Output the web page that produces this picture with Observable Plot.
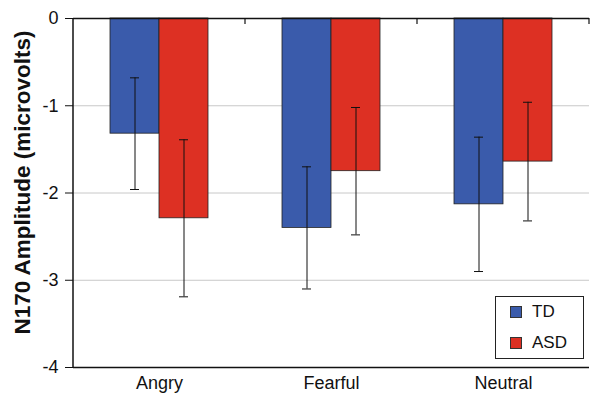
<!DOCTYPE html>
<html>
<head>
<meta charset="utf-8">
<script src="https://cdn.jsdelivr.net/npm/d3@7"></script>
<script src="https://cdn.jsdelivr.net/npm/@observablehq/plot@0.6"></script>
<style>
  body { margin: 0; background: #fff; }
  #wrap { position: relative; width: 600px; height: 402px; font-family: Arial, "Liberation Sans", sans-serif; }
  #legend { position: absolute; left: 495px; top: 296px; width: 89px; height: 63px; border: 1px solid #222; background: #fff; box-sizing: border-box; font-size: 17px; color: #111; }
  #legend .row { position: absolute; left: 14px; display: flex; align-items: center; }
  #legend .sw { width: 10px; height: 10px; border: 1px solid #333; margin-right: 10px; }
</style>
</head>
<body>
<div id="wrap"></div>
<script>
const emotions = ["Angry", "Fearful", "Neutral"];
const groups = ["TD", "ASD"];
const tdMean = [-1.32, -2.40, -2.13];
const tdErr = [0.64, 0.70, 0.77];
const asdMean = [-2.29, -1.75, -1.64];
const asdErr = [0.90, 0.73, 0.68];
const yTicks = [0, -1, -2, -3, -4];
const gridLines = [-1, -2, -3];
const colors = ["#3a5bab", "#dd3023"];

const data = [];
emotions.forEach((e, i) => {
  data.push({emotion: e, group: "TD", value: tdMean[i], err: tdErr[i]});
  data.push({emotion: e, group: "ASD", value: asdMean[i], err: asdErr[i]});
});

const fmt = d => d === 0 ? "0" : "-" + Math.abs(d);

const plot = Plot.plot({
  width: 600,
  height: 402,
  marginLeft: 73,
  marginRight: 11,
  marginTop: 18,
  marginBottom: 35,
  style: {fontFamily: "Arial, 'Liberation Sans', sans-serif", fontSize: "18px", color: "#111", background: "#fff"},
  fx: {domain: emotions, padding: 0, label: null, axis: "bottom", tickSize: 0, tickPadding: 9},
  x: {domain: groups, paddingInner: 0, paddingOuter: 0.737, axis: null},
  y: {domain: [-4, 0], label: null},
  color: {domain: groups, range: colors},
  marks: [
    Plot.ruleY(gridLines, {stroke: "#c8c8c8", strokeWidth: 1}),
    Plot.barY(data, {fx: "emotion", x: "group", y: "value", fill: "group", stroke: "#222", strokeWidth: 0.8}),
    Plot.ruleX(data, {fx: "emotion", x: "group", y1: d => d.value + d.err, y2: d => d.value - d.err, stroke: "#111", strokeWidth: 1}),
    Plot.tickY(data, {fx: "emotion", x: "group", y: d => d.value + d.err, stroke: "#111", strokeWidth: 1, insetLeft: 20, insetRight: 20}),
    Plot.tickY(data, {fx: "emotion", x: "group", y: d => d.value - d.err, stroke: "#111", strokeWidth: 1, insetLeft: 20, insetRight: 20}),
    Plot.ruleY([0], {stroke: "#111", strokeWidth: 1.5}),
    Plot.ruleY([-4], {stroke: "#111", strokeWidth: 1.5}),
    Plot.axisY({ticks: yTicks, tickSize: 8, tickPadding: 7, tickFormat: fmt, label: null, fontSize: 18})
  ]
});

const svg = d3.select(plot.tagName.toLowerCase() === "svg" ? plot : plot.querySelector("svg"));
const fxs = plot.scale("fx");
const ys = plot.scale("y");
const yTop = ys.apply(0), yBot = ys.apply(-4);
const xLeft = fxs.apply(emotions[0]);
svg.append("line").attr("x1", xLeft).attr("x2", xLeft).attr("y1", yTop).attr("y2", yBot)
  .attr("stroke", "#111").attr("stroke-width", 1.5);
emotions.forEach(e => {
  const xr = fxs.apply(e) + fxs.bandwidth;
  svg.append("line").attr("x1", xr).attr("x2", xr).attr("y1", yTop).attr("y2", yTop + 6)
    .attr("stroke", "#111").attr("stroke-width", 1.2);
});

svg.append("text")
  .attr("transform", `translate(30,${(yTop + yBot) / 2 - 10}) rotate(-90)`)
  .attr("text-anchor", "middle")
  .attr("font-family", "Arial, 'Liberation Sans', sans-serif")
  .attr("font-weight", "bold")
  .attr("font-size", 22.5)
  .attr("fill", "#111")
  .text("N170 Amplitude (microvolts)");

const wrap = document.getElementById("wrap");
wrap.appendChild(plot);

const legend = document.createElement("div");
legend.id = "legend";
groups.forEach((g, i) => {
  const row = document.createElement("div");
  row.className = "row";
  row.style.top = (i === 0 ? 5 : 36) + "px";
  const sw = document.createElement("div");
  sw.className = "sw";
  sw.style.background = colors[i];
  const t = document.createElement("span");
  t.textContent = g;
  row.appendChild(sw);
  row.appendChild(t);
  legend.appendChild(row);
});
wrap.appendChild(legend);
</script>
</body>
</html>
